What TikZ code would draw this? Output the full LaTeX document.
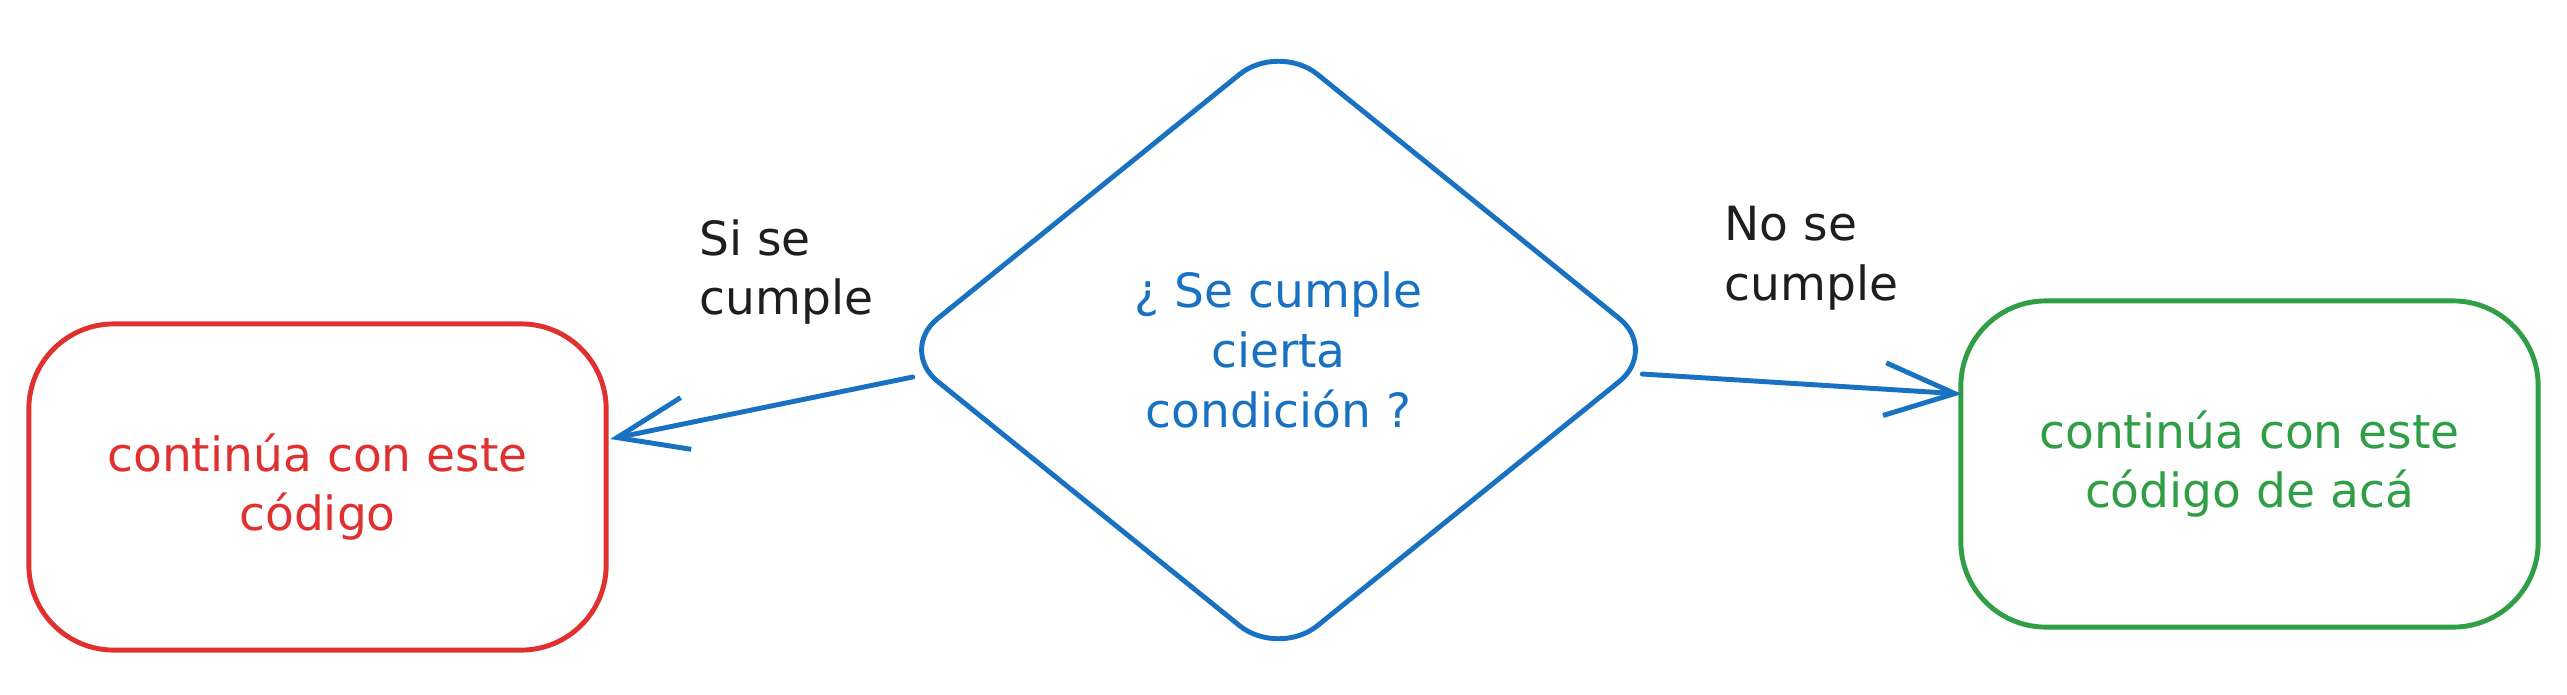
\documentclass[tikz,border=0pt]{standalone}
\usepackage{fontspec}
\setmainfont{DejaVu Sans}
\usetikzlibrary{arrows.meta,shapes.geometric,calc}
\definecolor{rojo}{HTML}{E03131}
\definecolor{azul}{HTML}{1971C2}
\definecolor{verde}{HTML}{2F9E44}
\definecolor{negro}{HTML}{1E1E1E}
\begin{document}
\begin{tikzpicture}[x=0.01cm, y=-0.01cm, line width=1.4pt, line cap=round,
    texto/.style={font=\fontsize{13.4}{17}\selectfont, inner sep=0pt},
    caja/.style={draw, rectangle, rounded corners=0.85cm, minimum width=5.77cm,
        minimum height=3.26cm, outer sep=0pt, align=center, texto},
    rombo/.style={draw, diamond, rounded corners=0.5cm, minimum width=7.59cm,
        minimum height=6.14cm, outer sep=0pt, align=center, texto},
    etiqueta/.style={negro, align=left, anchor=west, texto},
    flecha/.style={azul, -{Straight Barb[length=20pt,width=15pt]}}]
    \useasboundingbox (0,0) rectangle (2567,694);
    \node[rombo, azul] (cond) at (1278.5,350) {¿ Se cumple\\cierta\\condición ?};
    \node[caja, rojo] (si) at (317.5,487) {continúa con este\\código};
    \node[caja, verde] (no) at (2249.5,464) {continúa con este\\código de acá};
    \node[etiqueta] (cumpleSi) at (697,272) {Si se\\cumple};
    \node[etiqueta] (cumpleNo) at (1722,258) {No se\\cumple};
    \draw[flecha] ($(cond.west)+(14,27)$) -- ($(si.east)+(4,-48)$);
    \draw[flecha] ($(cond.east)+(-16,24)$) -- ($(no.west)+(1,-70)$);
\end{tikzpicture}
\end{document}
